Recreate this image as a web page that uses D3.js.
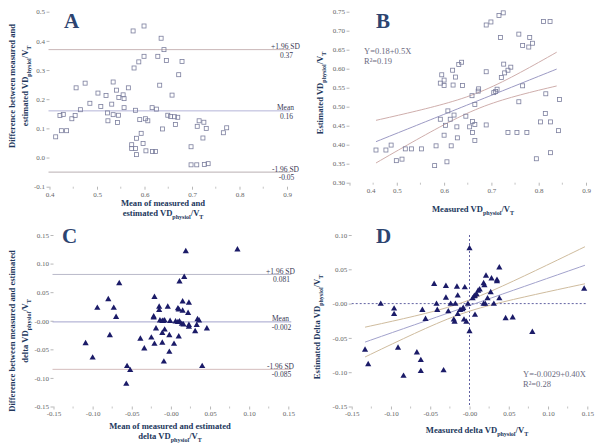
<!DOCTYPE html>
<html><head><meta charset="utf-8">
<script src="https://cdn.jsdelivr.net/npm/d3@7"></script>
<style>body{margin:0;background:#fff}svg{display:block}</style>
</head><body><svg id="c" width="600" height="446"></svg>
<script>
// ---------- Panel A: Bland-Altman (mean vs difference) ----------
const aMean = [0.576,0.599,0.635,0.641,0.599,0.628,0.588,0.646,0.679,0.578,0.672,0.456,0.475,0.534,0.566,0.632,0.541,0.502,0.519,0.555,0.546,0.557,0.658,0.485,0.508,0.531,0.557,0.465,0.581,0.616,0.625,0.422,0.429,0.454,0.447,0.522,0.534,0.545,0.523,0.543,0.590,0.602,0.607,0.649,0.655,0.663,0.670,0.715,0.725,0.665,0.711,0.730,0.773,0.766,0.425,0.436,0.413,0.638,0.593,0.583,0.723,0.573,0.597,0.573,0.581,0.583,0.603,0.617,0.623,0.698,0.698,0.710,0.726,0.734];
const aDiff = [0.434,0.451,0.409,0.370,0.347,0.347,0.328,0.333,0.329,0.307,0.284,0.239,0.255,0.259,0.239,0.248,0.231,0.221,0.213,0.215,0.206,0.202,0.214,0.186,0.175,0.183,0.171,0.164,0.162,0.171,0.166,0.144,0.148,0.144,0.133,0.153,0.147,0.145,0.126,0.120,0.130,0.133,0.126,0.145,0.141,0.140,0.138,0.126,0.121,0.113,0.107,0.100,0.102,0.085,0.092,0.092,0.071,0.098,0.083,0.066,0.067,0.044,0.048,0.031,0.031,0.010,0.023,0.021,0.021,0.037,-0.025,-0.025,-0.024,-0.021];
const aLimits = [0.37, 0.16, -0.05];
const aLimitNames = ["+1.96 SD", "Mean", "-1.96 SD"];
const aLimitLabels = ["0.37", "0.16", "-0.05"];
const aXTicks = [0.4,0.5,0.6,0.7,0.8,0.9];
const aXTickLabels = ["0.4","0.5","0.6","0.7","0.8","0.9"];
const aYTicks = [-0.1,0,0.1,0.2,0.3,0.4,0.5];
const aYTickLabels = ["-0.1","0.0","0.1","0.2","0.3","0.4","0.5"];

// ---------- Panel B: measured vs estimated ----------
const bMeasured = [0.456,0.477,0.488,0.499,0.511,0.518,0.531,0.552,0.580,0.583,0.606,0.615,0.600,0.592,0.603,0.613,0.608,0.621,0.627,0.628,0.646,0.654,0.660,0.660,0.665,0.665,0.665,0.659,0.672,0.673,0.689,0.592,0.600,0.600,0.595,0.618,0.619,0.624,0.631,0.637,0.639,0.689,0.705,0.712,0.709,0.721,0.726,0.728,0.735,0.741,0.689,0.699,0.716,0.725,0.719,0.758,0.766,0.781,0.779,0.787,0.810,0.824,0.766,0.758,0.815,0.814,0.804,0.825,0.844,0.842,0.735,0.754,0.775,0.795,0.825];
const bEstimated = [0.386,0.386,0.399,0.358,0.362,0.389,0.389,0.389,0.345,0.397,0.355,0.397,0.425,0.467,0.451,0.467,0.489,0.478,0.447,0.418,0.475,0.447,0.461,0.432,0.453,0.411,0.506,0.529,0.541,0.547,0.452,0.562,0.570,0.556,0.584,0.596,0.557,0.578,0.611,0.617,0.556,0.592,0.537,0.546,0.540,0.577,0.612,0.589,0.596,0.604,0.715,0.723,0.740,0.747,0.682,0.691,0.661,0.682,0.657,0.667,0.724,0.724,0.555,0.513,0.534,0.482,0.460,0.460,0.519,0.437,0.432,0.432,0.432,0.363,0.379];
const bFit = {a: 0.18, b: 0.5, xFrom: 0.456, xTo: 0.838, xm: 0.674, h0: 0.021, k: 0.057};
const bEq = ["Y=0.18+0.5X", "R²=0.19"];
const bXTicks = [0.4,0.5,0.6,0.7,0.8,0.9];
const bXTickLabels = ["0.4","0.5","0.6","0.7","0.8","0.9"];
const bYTicks = [0.30,0.35,0.40,0.45,0.50,0.55,0.60,0.65,0.70,0.75];
const bYTickLabels = ["0.30","0.35","0.40","0.45","0.50","0.55","0.60","0.65","0.70","0.75"];

// ---------- Panel C: Bland-Altman of deltas ----------
const cMean = [0.019,0.085,0.017,0.011,-0.066,-0.021,-0.080,0.015,0.023,-0.094,-0.073,-0.015,-0.004,-0.015,0.009,0.010,0.015,0.022,-0.070,-0.022,-0.022,-0.014,-0.011,-0.010,-0.008,-0.001,0.006,0.009,0.011,0.014,0.016,0.023,0.023,0.034,0.036,0.033,0.046,-0.019,-0.008,0.031,-0.078,-0.011,-0.002,0.010,-0.039,-0.025,-0.034,-0.021,-0.011,0.004,-0.109,-0.002,-0.100,-0.009,-0.056,-0.052,0.040,-0.057];
const cDiff = [0.122,0.125,0.077,0.069,0.066,0.042,0.038,0.034,0.032,0.023,0.023,0.025,0.025,0.019,0.022,0.020,0.018,0.014,0.007,0.008,0.006,0.001,0.000,0.000,0.001,0.000,-0.001,-0.002,-0.001,-0.005,-0.006,-0.007,-0.010,0.003,0.001,-0.007,-0.013,-0.013,-0.015,-0.018,-0.025,-0.021,-0.025,-0.027,-0.031,-0.029,-0.048,-0.040,-0.038,-0.040,-0.039,-0.054,-0.064,-0.071,-0.079,-0.086,-0.079,-0.110];
const cLimits = [0.081, -0.002, -0.085];
const cLimitNames = ["+1.96 SD", "Mean", "-1.96 SD"];
const cLimitLabels = ["0.081", "-0.002", "-0.085"];
const cXTicks = [-0.15,-0.10,-0.05,0,0.05,0.10,0.15];
const cXTickLabels = ["-0.15","-0.10","-0.05","-0.00","0.05","0.10","0.15"];
const cYTicks = [-0.15,-0.10,-0.05,0,0.05,0.10,0.15];
const cYTickLabels = ["-0.15","-0.10","-0.05","-0.00","0.05","0.10","0.15"];

// ---------- Panel D: measured vs estimated deltas ----------
const dMeasured = [0.000,0.038,0.021,0.028,0.035,0.035,0.018,0.019,-0.045,-0.030,-0.016,-0.006,0.013,0.011,0.009,0.006,0.004,0.007,0.027,-0.030,-0.015,0.023,0.038,0.146,-0.113,-0.042,-0.024,-0.018,-0.002,0.018,0.020,0.031,-0.096,-0.096,-0.060,-0.041,-0.027,-0.015,-0.009,-0.012,-0.008,-0.056,-0.020,-0.019,-0.007,-0.004,0.007,0.046,0.055,0.000,0.080,-0.133,-0.091,-0.067,-0.062,-0.129,-0.062,-0.033,-0.084];
const dEstimated = [0.081,0.053,0.041,0.037,0.035,0.033,0.030,0.027,0.029,0.026,0.025,0.024,0.021,0.019,0.014,0.011,0.008,0.012,0.017,0.009,0.012,0.008,0.008,0.022,0.000,0.000,0.000,0.000,0.000,0.000,0.000,0.000,-0.007,-0.015,-0.009,-0.009,-0.011,-0.015,-0.008,-0.009,-0.006,-0.022,-0.023,-0.026,-0.023,-0.026,-0.016,-0.021,-0.020,-0.040,-0.041,-0.067,-0.064,-0.071,-0.082,-0.088,-0.098,-0.097,-0.105];
const dFit = {a: -0.0029, b: 0.40, xFrom: -0.133, xTo: 0.147, xm: -0.01, h0: 0.008, k: 0.027};
const dEq = ["Y=-0.0029+0.40X", "R²=0.28"];
const dXTicks = [-0.15,-0.10,-0.05,0,0.05,0.10,0.15];
const dXTickLabels = ["-0.15","-0.10","-0.05","-0.00","0.05","0.10","0.15"];
const dYTicks = [-0.15,-0.10,-0.05,0,0.05,0.10];
const dYTickLabels = ["-0.15","-0.10","-0.05","-0.00","0.05","0.10"];

// ---------- drawing ----------
const svg = d3.select("#c");
svg.append("rect").attr("width",600).attr("height",446).attr("fill","#fff");
const SERIF = "'Liberation Serif','Times New Roman',serif";
const TITLE = "#22375c";

function axes(g, x, y, xt, xl, yt, yl, firstLabelShift) {
  const [x0] = x.range(); const [y0] = y.range();
  const yAx = g.append("g").attr("transform", `translate(${x0},0)`)
    .call(d3.axisLeft(y).tickValues(yt).tickFormat((d,i)=>yl[i]).tickSize(3).tickPadding(1.5));
  const xAx = g.append("g").attr("transform", `translate(0,${y0})`)
    .call(d3.axisBottom(x).tickValues(xt).tickFormat((d,i)=>xl[i]).tickSize(3).tickPadding(2));
  // minor ticks
  const minor = d3.pairs(xt).map(p => (p[0]+p[1])/2);
  xAx.selectAll(".mn").data(minor).join("line").attr("class","mn")
    .attr("x1", d=>x(d)).attr("x2", d=>x(d)).attr("y1",0).attr("y2",2)
    .attr("stroke","#aaa").attr("stroke-width",0.7);
  [yAx, xAx].forEach(a => {
    a.select(".domain").remove();
    a.selectAll(".tick line").attr("stroke","#999").attr("stroke-width",0.7);
    a.selectAll("text").attr("font-family",SERIF).attr("font-size",7).attr("fill","#666");
  });
  if (firstLabelShift) xAx.select(".tick text").attr("x", firstLabelShift);
}

function subLabel(sel, parts) {
  parts.forEach(p => {
    const t = sel.append("tspan").text(p[0]);
    if (p[1]) t.attr("baseline-shift","sub").attr("font-size","70%");
  });
}
const VD = (pre) => [[pre+"VD"],["physiol",1],["/V"],["T",1]];

function titleX(g, cx, y1, lines) {
  lines.forEach((ln, i) => {
    const t = g.append("text").attr("x",cx).attr("y",y1 + i*9.5)
      .attr("text-anchor","middle").attr("font-family",SERIF).attr("font-weight","bold")
      .attr("font-size",8.6).attr("fill",TITLE);
    subLabel(t, ln);
  });
}
function titleY(g, x1, cy, lines) {
  lines.forEach((ln, i) => {
    const t = g.append("text").attr("transform",`translate(${x1 + i*12.5},${cy}) rotate(-90)`)
      .attr("text-anchor","middle").attr("font-family",SERIF).attr("font-weight","bold")
      .attr("font-size",8.6).attr("fill",TITLE);
    subLabel(t, ln);
  });
}
function letter(g, x, y, s) {
  g.append("text").attr("x",x).attr("y",y).text(s).attr("font-family",SERIF)
    .attr("font-weight","bold").attr("font-size",21).attr("fill","#2d4470");
}
function squares(g, x, y, xs, ys) {
  g.selectAll(".sq").data(xs).join("rect").attr("class","sq")
    .attr("x",(d)=>x(d)-2).attr("y",(d,i)=>y(ys[i])-2).attr("width",4).attr("height",4)
    .attr("fill","none").attr("stroke","#7c7f9e").attr("stroke-width",0.8);
}
function triangles(g, x, y, xs, ys) {
  g.selectAll(".tr").data(xs).join("path").attr("class","tr")
    .attr("transform",(d,i)=>`translate(${x(d)},${y(ys[i])})`)
    .attr("d","M0,-3.2L3.1,2.2L-3.1,2.2Z").attr("fill","#1b1b68");
}
function limitLines(g, x, y, vals, names, labels, colors, cx) {
  const [xa, xb] = x.range();
  vals.forEach((v,i) => {
    g.append("line").attr("x1",xa-1).attr("x2",xb+3).attr("y1",y(v)).attr("y2",y(v))
      .attr("stroke",colors[i]).attr("stroke-width",1);
    g.append("text").attr("x",cx).attr("y",y(v)-0.6).attr("text-anchor","middle")
      .attr("font-family",SERIF).attr("font-size",7.5).attr("fill","#3a3a55").text(names[i]);
    g.append("text").attr("x",cx+1).attr("y",y(v)+8).attr("text-anchor","middle")
      .attr("font-family",SERIF).attr("font-size",7.5).attr("fill","#3a3a55").text(labels[i]);
  });
}
function fitLines(g, x, y, f, cCenter, cBand) {
  const xs = d3.range(0, 41).map(i => f.xFrom + (f.xTo - f.xFrom) * i / 40);
  const c = v => f.a + f.b * v;
  const h = v => Math.sqrt(f.h0*f.h0 + f.k*(v - f.xm)*(v - f.xm));
  const ln = d3.line().x(d=>x(d[0])).y(d=>y(d[1]));
  g.append("path").attr("d", ln(xs.map(v=>[v, c(v)+h(v)]))).attr("fill","none").attr("stroke",cBand).attr("stroke-width",1);
  g.append("path").attr("d", ln(xs.map(v=>[v, c(v)]))).attr("fill","none").attr("stroke",cCenter).attr("stroke-width",1);
  g.append("path").attr("d", ln(xs.map(v=>[v, c(v)-h(v)]))).attr("fill","none").attr("stroke",cBand).attr("stroke-width",1);
}
function eqText(g, x0, y0, lines) {
  lines.forEach((s,i) => g.append("text").attr("x",x0).attr("y",y0+i*10).text(s)
    .attr("font-family",SERIF).attr("font-size",8.5).attr("fill","#6a6a80"));
}

// Panel A
{
  const g = svg.append("g");
  const x = d3.scaleLinear().domain([0.4,0.9]).range([49.5,287]);
  const y = d3.scaleLinear().domain([-0.1,0.5]).range([186.7,11.7]);
  axes(g, x, y, aXTicks, aXTickLabels, aYTicks, aYTickLabels);
  limitLines(g, x, y, aLimits, aLimitNames, aLimitLabels, ["#c9b6b8","#b4b4d8","#b9b0b2"], 285.5);
  squares(g, x, y, aMean, aDiff);
  letter(g, 64, 28, "A");
  titleX(g, 163, 206, [[["Mean of measured and"]], VD("estimated ")]);
  titleY(g, 15, 86, [[["Difference between measured and"]], VD("estimated ")]);
}
// Panel B
{
  const g = svg.append("g");
  const x = d3.scaleLinear().domain([0.4,0.9]).range([349.5,586]);
  const y = d3.scaleLinear().domain([0.30,0.75]).range([182.7,11.7]);
  axes(g, x, y, bXTicks, bXTickLabels, bYTicks, bYTickLabels, 21);
  fitLines(g, x, y, bFit, "#9c9ac4", "#cfaeac");
  squares(g, x, y, bMeasured, bEstimated);
  letter(g, 376, 28, "B");
  eqText(g, 364, 54, bEq);
  titleX(g, 473, 212, [VD("Measured ")]);
  titleY(g, 323, 93, [VD("Estimated ")]);
}
// Panel C
{
  const g = svg.append("g");
  const x = d3.scaleLinear().domain([-0.15,0.15]).range([53.5,288.3]);
  const y = d3.scaleLinear().domain([-0.15,0.15]).range([406.5,235]);
  axes(g, x, y, cXTicks, cXTickLabels, cYTicks, cYTickLabels);
  limitLines(g, x, y, cLimits, cLimitNames, cLimitLabels, ["#b9b9c9","#a4a4cc","#d4bcbc"], 280.5);
  triangles(g, x, y, cMean, cDiff);
  letter(g, 62, 243, "C");
  titleX(g, 170, 429, [[["Mean of measured and estimated"]], VD("delta ")]);
  titleY(g, 15, 331, [[["Difference between measured and estimated"]], VD("delta ")]);
}
// Panel D
{
  const g = svg.append("g");
  const x = d3.scaleLinear().domain([-0.15,0.15]).range([351.7,587.3]);
  const y = d3.scaleLinear().domain([-0.15,0.10]).range([406.5,235]);
  axes(g, x, y, dXTicks, dXTickLabels, dYTicks, dYTickLabels);
  g.append("line").attr("x1",x(0)).attr("x2",x(0)).attr("y1",y(0.10)).attr("y2",y(-0.15))
    .attr("stroke","#3a3a8a").attr("stroke-width",0.8).attr("stroke-dasharray","2,2");
  g.append("line").attr("x1",x(-0.15)).attr("x2",x(0.15)).attr("y1",y(0)).attr("y2",y(0))
    .attr("stroke","#3a3a8a").attr("stroke-width",0.8).attr("stroke-dasharray","2,2");
  fitLines(g, x, y, dFit, "#a2a2cc", "#cfbc9e");
  triangles(g, x, y, dMeasured, dEstimated);
  letter(g, 376, 243, "D");
  eqText(g, 523, 377, dEq);
  titleX(g, 477, 433, [VD("Measured delta ")]);
  titleY(g, 320, 327, [VD("Estimated Delta ")]);
}
</script></body></html>
